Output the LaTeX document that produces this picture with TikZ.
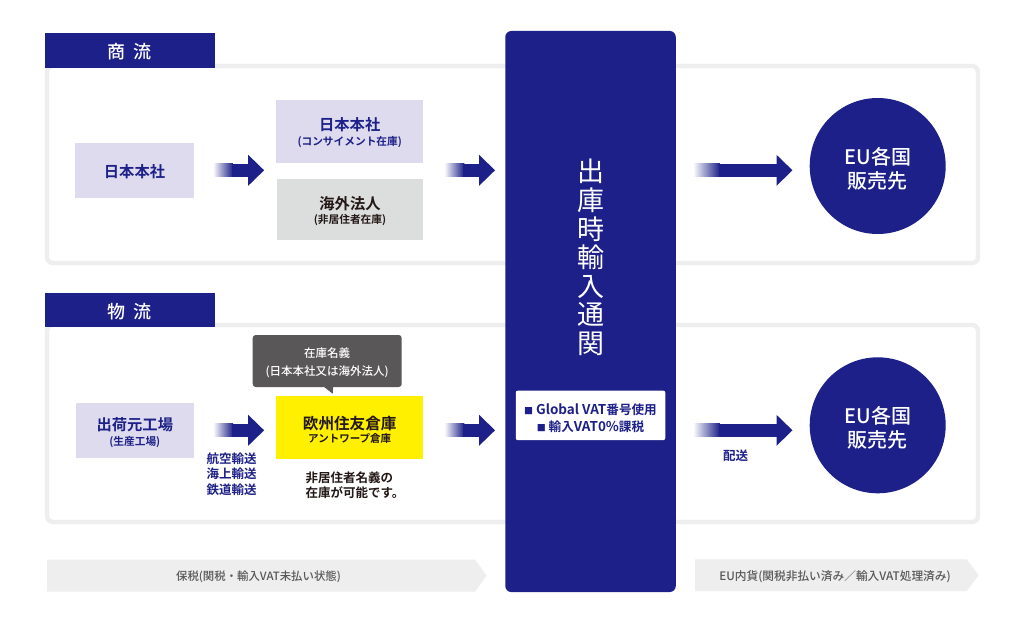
\documentclass[tikz,border=0pt]{standalone}
\usepackage{fontspec}
\setmainfont{Noto Sans CJK JP}[BoldFont={Noto Sans CJK JP Medium}]
\newfontfamily\heavy{Noto Sans CJK JP Bold}
\usetikzlibrary{calc,arrows.meta}
\definecolor{navy}{HTML}{1D2088}
\definecolor{lilac}{HTML}{DEDBEE}
\definecolor{stone}{HTML}{DCDDDD}
\definecolor{pale}{HTML}{EEEEEE}
\definecolor{ink}{HTML}{231815}
\definecolor{slate}{HTML}{595757}
\definecolor{signal}{HTML}{FFF000}
\newcommand{\fs}[2]{\fontsize{#1}{#2}\selectfont}
\newcommand{\dn}[2]{\raisebox{-#1pt}[\height][\depth]{\begin{tabular}{@{}c@{}}#2\end{tabular}}}
\newcommand{\flowarrow}[5][20]{%
\shade[left color=white,right color=navy] ($(#2)+(#4,-6.4)$) rectangle ($(#2)+(#4+#1,6.4)$);
\draw[flowline,shorten >=#5] ($(#2)+(#4+#1-1,0)$) -- (#3);}
\begin{document}
\begin{tikzpicture}[x=1pt,y=-1pt]
\tikzset{panel/.style={draw=pale,line width=4.4pt,rounded corners=6pt,fill=white,inner sep=0pt,minimum width=931pt,minimum height=197pt},
tabbox/.style={fill=navy,text=white,inner sep=0pt,minimum width=169.5pt,minimum height=34.6pt,font=\fs{18}{21}\bfseries},
lilacbox/.style={fill=lilac,text=navy,inner sep=0pt,font=\fs{15.3}{18}\heavy},
stonebox/.style={fill=stone,text=ink,inner sep=0pt,font=\fs{15.3}{18}\heavy},
eucircle/.style={circle,fill=navy,text=white,inner sep=0pt,minimum size=136pt,font=\fs{20}{24}\bfseries},
plain/.style={inner sep=0pt},
flowline/.style={draw=navy,line width=12.8pt,-{Triangle[length=16pt,width=30pt]}}}
\useasboundingbox (0,0) rectangle (1024,639);
\fill[white] (0,0) rectangle (1024,639);
% panels
\draw (512.5,164.5) node[panel] (pane1) {};
\draw (512.5,423.5) node[panel] (pane2) {};
\draw (129.8,50.4) node[tabbox] (tab1) {\dn{4}{商\hspace{8pt}流}};
\draw (129.8,310) node[tabbox] (tab2) {\dn{4}{物\hspace{8pt}流}};
% centre bar
\draw (590.5,311.5) node[fill=navy,rounded corners=6pt,inner sep=0pt,minimum width=170.5pt,minimum height=561pt] (bar) {};
\draw (590.5,257.5) node[plain,align=center,text=white,font=\fs{27}{28.6}] (barlabel) {出\\庫\\時\\輸\\入\\通\\関};
\draw (590.5,415.4) node[fill=white,text=navy,rounded corners=2pt,inner sep=0pt,minimum width=149.5pt,minimum height=49.5pt,font=\fs{12.6}{17}\heavy] (vatbox) {\dn{4}{{\fs{9}{17}■} {\fs{13.5}{17}Global VAT}番号使用\\{\fs{9}{17}■} 輸入{\fs{13.5}{17}VAT0\%}課税}};
% upper row
\draw (134.5,170.3) node[lilacbox,minimum width=118.4pt,minimum height=55pt] (hq) {\dn{3.5}{日本本社}};
\draw (349.7,131.3) node[lilacbox,minimum width=146.7pt,minimum height=62.7pt] (consign) {\dn{3}{日本本社\\[-3pt]{\fs{10.7}{14}(コンサイメント在庫)}}};
\draw (350,209.5) node[stonebox,minimum width=145.4pt,minimum height=61pt] (overseas) {\dn{3}{海外法人\\[-4pt]{\fs{10.7}{14}(非居住者在庫)}}};
\draw (877.7,166) node[eucircle] (sales1) {\dn{6}{EU各国\\販売先}};
% lower row
\draw (134.8,430.3) node[lilacbox,minimum width=118.3pt,minimum height=55.4pt] (factory) {\dn{4}{出荷元工場\\[-3pt]{\fs{10.7}{14}(生産工場)}}};
\draw (349.7,427.3) node[stonebox,fill=signal,minimum width=146.7pt,minimum height=62.7pt,font=\fs{15.6}{18}\heavy] (depot) {\dn{5}{欧州住友倉庫\\[-5pt]{\fs{10.5}{14}アントワープ倉庫}}};
\draw (327.2,361) node[fill=slate,text=white,rounded corners=3pt,inner sep=0pt,minimum width=149pt,minimum height=52pt,font=\fs{11.5}{17}\bfseries] (owner) {\dn{2}{在庫名義\\[1pt](日本本社又は海外法人)}};
\fill[slate] ($(owner.south)+(-4,-1)$) -- ($(owner.south)+(6,-1)$) -- ($(owner.south)+(5.5,6.5)$) -- cycle;
\draw (877.7,425.3) node[eucircle] (sales2) {\dn{5.5}{EU各国\\販売先}};
\draw (231.5,474) node[plain,align=center,text=navy,font=\fs{12.5}{15.7}\heavy] (modes) {航空輸送\\海上輸送\\鉄道輸送};
\draw (355,485.5) node[plain,align=left,text=ink,font=\fs{12.5}{15}\heavy] (note) {非居住者名義の\\在庫が可能です。};
\draw (735.5,455.5) node[plain,text=navy,font=\fs{12.5}{15}\heavy] (ship) {配送};
% bands
\fill[pale] (47,559.6) -- (475,559.6) -- (486.7,575.6) -- (475,591.6) -- (47,591.6) -- cycle;
\draw (258.5,576.5) node[plain,text=slate,font=\fs{11.4}{14}\bfseries] (bonded) {保税(関税・輸入VAT未払い状態)};
\fill[pale] (695,559.4) -- (966.7,559.4) -- (978.7,575.2) -- (966.7,591) -- (695,591) -- cycle;
\draw (835,576.5) node[plain,text=slate,font=\fs{11.7}{14}\bfseries] (cleared) {EU内貨(関税非払い済み／輸入VAT処理済み)};
% arrows
\flowarrow{hq.east}{consign.west |- hq.east}{19}{12}
\flowarrow{consign.east |- hq.east}{bar.west |- hq.east}{21}{10}
\flowarrow[27]{bar.east |- hq.east}{sales1.west |- hq.east}{17}{17}
\flowarrow{factory.east}{depot.west |- factory.east}{19}{12}
\flowarrow{depot.east |- factory.east}{bar.west |- factory.east}{21}{10}
\flowarrow[27]{bar.east |- factory.east}{sales2.west |- factory.east}{17}{17}
\end{tikzpicture}
\end{document}
